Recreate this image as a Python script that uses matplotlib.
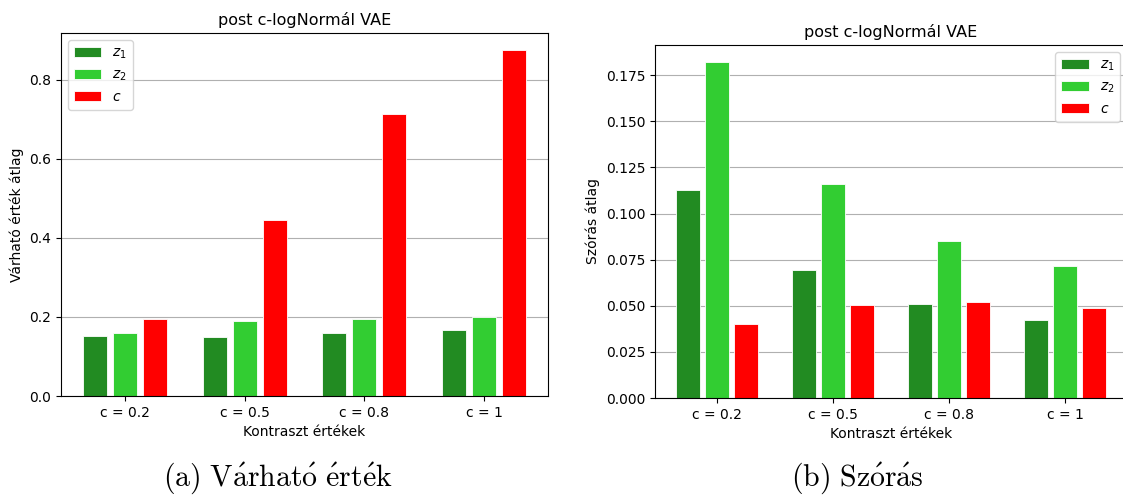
import numpy as np
import matplotlib
matplotlib.use("Agg")
import matplotlib.pyplot as plt

categories = ["c = 0.2", "c = 0.5", "c = 0.8", "c = 1"]
series_names = [r"$z_1$", r"$z_2$", r"$c$"]
colors = ["#228B22", "#32CD32", "#FF0000"]

mean_z1 = [0.151, 0.149, 0.159, 0.166]
mean_z2 = [0.159, 0.189, 0.194, 0.199]
mean_c = [0.194, 0.444, 0.712, 0.874]

std_z1 = [0.1126, 0.0695, 0.0509, 0.0425]
std_z2 = [0.1823, 0.1158, 0.0852, 0.0717]
std_c = [0.0400, 0.0503, 0.0519, 0.0489]

W, H = 1123, 495
fig = plt.figure(figsize=(W / 100, H / 100), dpi=100)

def px_axes(x0, y0, x1, y1):
    return fig.add_axes([x0 / W, 1 - y1 / H, (x1 - x0) / W, (y1 - y0) / H])

ax1 = px_axes(61, 33, 548, 396)
ax2 = px_axes(655, 45, 1127, 398)

x = np.arange(len(categories))
offsets = [-0.25, 0.0, 0.25]
width = 0.2

def draw(ax, data, ylabel, legend_loc):
    for vals, off, col, name in zip(data, offsets, colors, series_names):
        ax.bar(x + off, vals, width, color=col, label=name,
               edgecolor="white", linewidth=0.6)
    ax.set_axisbelow(True)
    ax.yaxis.grid(True, color="#b0b0b0", linewidth=0.8)
    ax.set_xticks(x)
    ax.set_xticklabels(categories)
    ax.set_xlabel("Kontraszt értékek")
    ax.set_ylabel(ylabel)
    ax.set_title("post c-logNormál VAE", fontsize=11.5)
    ax.legend(loc=legend_loc)

draw(ax1, [mean_z1, mean_z2, mean_c], "Várható érték átlag", "upper left")
draw(ax2, [std_z1, std_z2, std_c], "Szórás átlag", "upper right")
ax1.set_yticks([0.0, 0.2, 0.4, 0.6, 0.8])
ax2.set_yticks(np.arange(0, 0.176, 0.025))
ax2.yaxis.set_major_formatter(matplotlib.ticker.FormatStrFormatter("%.3f"))

plt.rcParams["mathtext.fontset"] = "cm"
fig.text(278 / W, 1 - 478 / H, r"$\mathrm{(a)\ V\acute{a}rhat\acute{o}\ \acute{e}rt\acute{e}k}$",
         ha="center", va="center", fontsize=21.5)
fig.text(857 / W, 1 - 478 / H, r"$\mathrm{(b)\ Sz\acute{o}r\acute{a}s}$",
         ha="center", va="center", fontsize=21.5)

fig.savefig("out.png", dpi=100)
